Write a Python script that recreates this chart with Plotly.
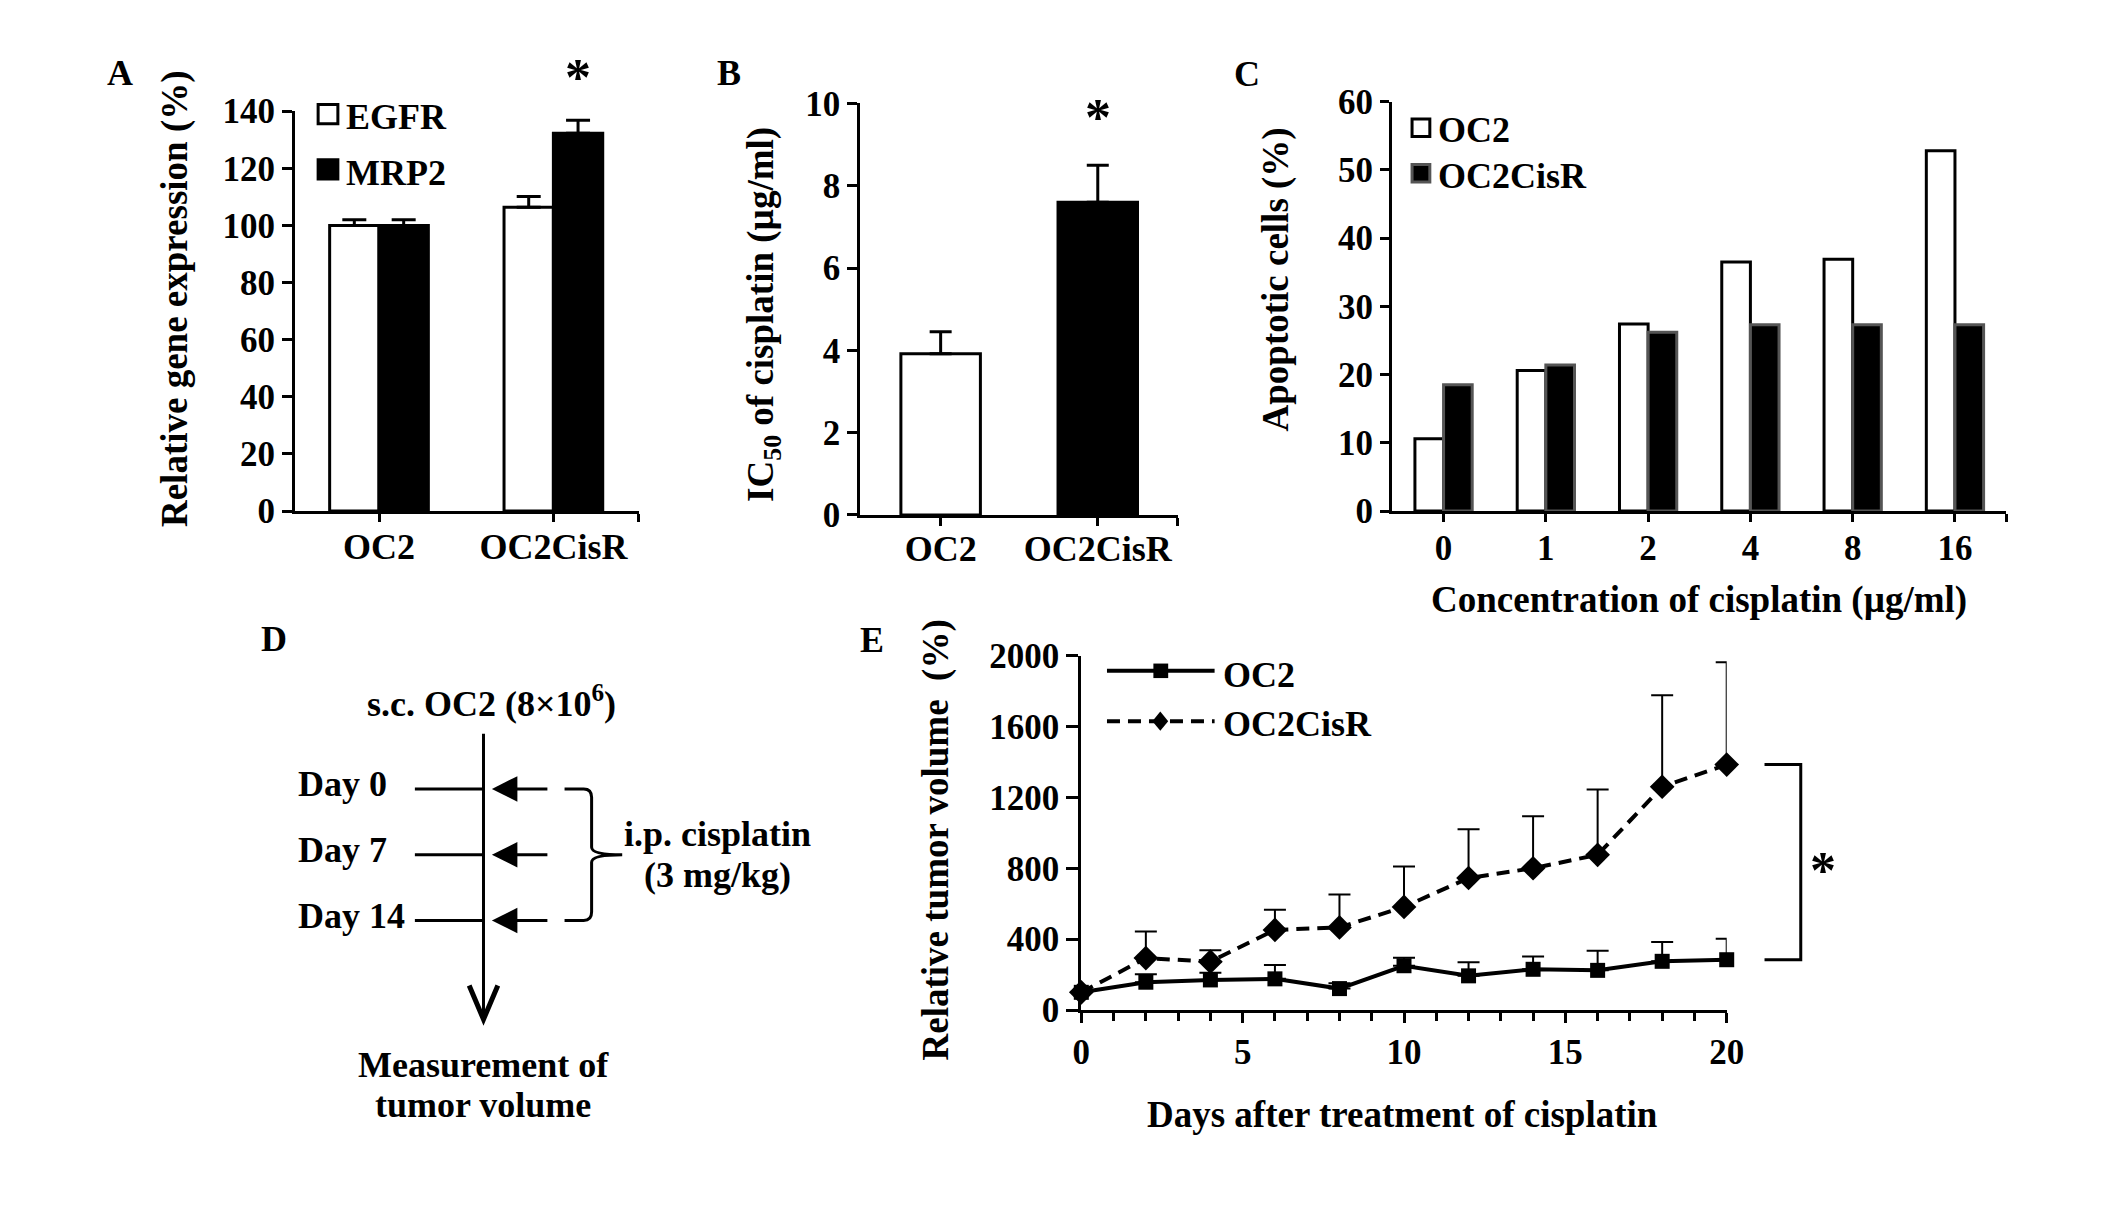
import plotly.graph_objects as go

# ---- data ----
# A: relative gene expression (%)
cell_lines = ['OC2', 'OC2CisR']
egfr = [100.0, 106.4]
egfr_err = [2.0, 3.7]
mrp2 = [100.0, 132.3]
mrp2_err = [2.0, 4.5]
a_yticks = [0, 20, 40, 60, 80, 100, 120, 140]

# B: IC50 of cisplatin (ug/ml)
ic50 = [3.92, 7.6]
ic50_err = [0.53, 0.9]
b_yticks = [0, 2, 4, 6, 8, 10]

# C: apoptotic cells (%)
conc = ['0', '1', '2', '4', '8', '16']
apop_oc2 = [10.6, 20.6, 27.4, 36.5, 36.9, 52.8]
apop_cisr = [18.5, 21.4, 26.2, 27.3, 27.3, 27.3]
c_yticks = [0, 10, 20, 30, 40, 50, 60]

# D: treatment schedule
sched_days = [0, 7, 14]

# E: relative tumor volume (%)
days = [0, 2, 4, 6, 8, 10, 12, 14, 16, 18, 20]
vol_oc2 = [100, 157, 170, 176, 121, 250, 193, 230, 224, 275, 284]
vol_oc2_err = [0, 45, 40, 78, 30, 45, 77, 72, 111, 109, 119]
vol_cisr = [100, 293, 273, 452, 466, 582, 745, 800, 876, 1260, 1385]
vol_cisr_err = [0, 150, 65, 114, 186, 228, 275, 294, 368, 517, 578]
e_xticks = [0, 5, 10, 15, 20]
e_yticks = [0, 400, 800, 1200, 1600, 2000]

# ---- layout helpers (page is 2126 x 1224 px) ----
W, H = 2126, 1224
FONT = 'Liberation Serif, Times New Roman, serif'


def px(x):
    return x / W


def py(y):
    return 1 - y / H


def axis_style(**kw):
    d = dict(showline=True, linecolor='black', linewidth=3, ticks='outside',
             tickcolor='black', tickwidth=3, ticklen=10, showgrid=False,
             zeroline=False, fixedrange=True, tickfont=dict(size=35))
    d.update(kw)
    return d


fig = go.Figure()

# ---- A ----
wa = 0.283
xa = list(range(len(cell_lines)))
fig.add_trace(go.Bar(
    x=xa, y=egfr, width=wa, offset=-wa, xaxis='x', yaxis='y',
    marker=dict(color='white', line=dict(color='black', width=3)),
    error_y=dict(type='data', array=egfr_err, arrayminus=[0] * 2, symmetric=False,
                 color='black', thickness=3, width=12)))
fig.add_trace(go.Bar(
    x=xa, y=mrp2, width=wa, offset=0, xaxis='x', yaxis='y',
    marker=dict(color='black', line=dict(color='black', width=3)),
    error_y=dict(type='data', array=mrp2_err, arrayminus=[0] * 2, symmetric=False,
                 color='black', thickness=3, width=12)))

# ---- B ----
fig.add_trace(go.Bar(
    x=xa, y=ic50, width=0.506, xaxis='x2', yaxis='y2',
    marker=dict(color=['white', 'black'], line=dict(color='black', width=3)),
    error_y=dict(type='data', array=ic50_err, arrayminus=[0] * 2, symmetric=False,
                 color='black', thickness=3, width=11)))

# ---- C ----
wc = 0.28
xc = list(range(len(conc)))
fig.add_trace(go.Bar(
    x=xc, y=apop_oc2, width=wc, offset=-wc, xaxis='x3', yaxis='y3',
    marker=dict(color='white', line=dict(color='black', width=3))))
fig.add_trace(go.Bar(
    x=xc, y=apop_cisr, width=wc, offset=0, xaxis='x3', yaxis='y3',
    marker=dict(color='black', line=dict(color='#555555', width=3))))

# ---- E ----
fig.add_trace(go.Scatter(
    x=days, y=vol_cisr, mode='lines+markers', xaxis='x4', yaxis='y4', cliponaxis=False,
    line=dict(color='black', width=4, dash='13px,8px'),
    marker=dict(symbol='diamond', size=19, color='black'),
    error_y=dict(type='data', array=vol_cisr_err, arrayminus=[0] * len(days),
                 symmetric=False, color='black', thickness=2, width=11)))
fig.add_trace(go.Scatter(
    x=days, y=vol_oc2, mode='lines+markers', xaxis='x4', yaxis='y4', cliponaxis=False,
    line=dict(color='black', width=4),
    marker=dict(symbol='square', size=15, color='black'),
    error_y=dict(type='data', array=vol_oc2_err, arrayminus=[0] * len(days),
                 symmetric=False, color='black', thickness=2, width=11)))

a_range = [-0.481, 1.491]
b_range = [-0.511, 1.511]
c_range = [-0.505, 5.503]

fig.update_layout(
    width=W, height=H, margin=dict(l=0, r=0, t=0, b=0),
    paper_bgcolor='white', plot_bgcolor='rgba(0,0,0,0)', showlegend=False,
    barmode='overlay',
    font=dict(family=FONT, size=36, color='black', weight='bold'),
    xaxis=axis_style(domain=[px(281.7), px(630)], range=a_range, anchor='y',
                     tickvals=xa + [a_range[1] - 0.002], ticktext=cell_lines + [''],
                     ticklen=8, tickfont=dict(size=36), ticklabelstandoff=-6),
    yaxis=axis_style(domain=[py(500), py(87)], range=[0, 140], anchor='x',
                     tickvals=a_yticks),
    xaxis2=axis_style(domain=[px(854.2), px(1176)], range=b_range, anchor='y2',
                      tickvals=xa + [b_range[1] - 0.002], ticktext=cell_lines + [''],
                      ticklen=8, tickfont=dict(size=36), ticklabelstandoff=-8),
    yaxis2=axis_style(domain=[py(504), py(79)], range=[0, 10], anchor='x2',
                      tickvals=b_yticks),
    xaxis3=axis_style(domain=[px(1392.6), px(2015)], range=c_range, anchor='y3',
                      tickvals=xc + [c_range[1] - 0.002], ticktext=conc + [''],
                      ticklen=8, ticklabelstandoff=-4),
    yaxis3=axis_style(domain=[py(500), py(77)], range=[0, 60], anchor='x3',
                      tickvals=c_yticks, ticklen=9),
    xaxis4=axis_style(domain=[px(1078), px(1731.7)], range=[0, 20], anchor='y4',
                      tickvals=e_xticks, ticklabelstandoff=-1,
                      minor=dict(dtick=1, ticks='outside', ticklen=8, tickwidth=3,
                                 tickcolor='black')),
    yaxis4=axis_style(domain=[py(1015.4), py(649.3)], range=[0, 2000], anchor='x4',
                      tickvals=e_yticks, ticklen=12),
    # hidden axes that place the schedule days of panel D
    xaxis5=dict(domain=[px(260), px(820)], range=[0, 1], visible=False, anchor='y5',
                fixedrange=True),
    yaxis5=dict(domain=[0, py(600)], range=[45.0, -19.25], visible=False, anchor='x5',
                fixedrange=True),
)

shapes = []
ann = []


def text(x, y, s, size=36, **kw):
    d = dict(x=px(x), y=py(y), xref='paper', yref='paper', text=s, showarrow=False,
             xanchor='center', yanchor='middle', font=dict(size=size))
    d.update(kw)
    ann.append(d)


# panel letters
for lab, x, y in [('A', 104, 48), ('B', 721, 47), ('C', 1246, 49),
                  ('D', 260, 632), ('E', 866, 633)]:
    text(x, y, lab, size=36)

# axis titles
text(160, 280, 'Relative gene expression (%)', size=37, textangle=-90)
text(756, 297, 'IC<sub>50</sub> of cisplatin (µg/ml)', size=37, textangle=-90)
text(1275, 261, 'Apoptotic cells (%)', size=37, textangle=-90)
text(1704, 592, 'Concentration of cisplatin (µg/ml)', size=37)
text(931, 840, 'Relative tumor volume\u00a0\u00a0(%)', size=37, textangle=-90)
text(1403, 1123, 'Days after treatment of cisplatin', size=37)

# legend A
shapes.append(dict(type='rect', xref='paper', yref='paper', x0=px(305), x1=px(325),
                   y0=py(80), y1=py(100), fillcolor='white', line=dict(color='black', width=3)))
shapes.append(dict(type='rect', xref='paper', yref='paper', x0=px(305), x1=px(325),
                   y0=py(137), y1=py(157), fillcolor='black', line=dict(color='black', width=3)))
text(331, 93, 'EGFR', xanchor='left')
text(331, 151, 'MRP2', xanchor='left')

# legend C
shapes.append(dict(type='rect', xref='paper', yref='paper', x0=px(1413), x1=px(1431),
                   y0=py(95), y1=py(113), fillcolor='white', line=dict(color='black', width=3)))
shapes.append(dict(type='rect', xref='paper', yref='paper', x0=px(1413), x1=px(1431),
                   y0=py(142), y1=py(160), fillcolor='black', line=dict(color='#555555', width=3)))
text(1437, 106, 'OC2', xanchor='left')
text(1437, 154, 'OC2CisR', xanchor='left')

# legend E
shapes.append(dict(type='line', xref='paper', yref='paper', x0=px(1104), x1=px(1213),
                   y0=py(665), y1=py(665), line=dict(color='black', width=4)))
shapes.append(dict(type='rect', xref='paper', yref='paper', x0=px(1151), x1=px(1166),
                   y0=py(657.5), y1=py(672.5), fillcolor='black', line=dict(width=0)))
shapes.append(dict(type='line', xref='paper', yref='paper', x0=px(1104), x1=px(1213),
                   y0=py(717), y1=py(717), line=dict(color='black', width=4, dash='13px,8px')))
shapes.append(dict(type='path', xref='paper', yref='paper',
                   path='M{},{} L{},{} L{},{} L{},{} Z'.format(
                       px(1158), py(707), px(1166), py(717), px(1158), py(727), px(1150), py(717)),
                   fillcolor='black', line=dict(width=0)))
text(1219, 669, 'OC2', xanchor='left')
text(1219, 720, 'OC2CisR', xanchor='left')

# significance marks
ann.append(dict(x=1 + wa / 2, y=mrp2[1] + mrp2_err[1], xref='x', yref='y', text='*',
                showarrow=False, xanchor='center', yanchor='bottom', yshift=12,
                font=dict(size=52)))
ann.append(dict(x=1, y=ic50[1] + ic50_err[1], xref='x2', yref='y2', text='*',
                showarrow=False, xanchor='center', yanchor='bottom', yshift=17,
                font=dict(size=52)))
shapes.append(dict(type='path', xref='paper', yref='y4',
                   path='M{},{} L{},{} L{},{} L{},{}'.format(
                       px(1770), vol_cisr[-1], px(1806.7), vol_cisr[-1],
                       px(1806.7), vol_oc2[-1], px(1770), vol_oc2[-1]),
                   line=dict(color='black', width=3)))
ann.append(dict(x=px(1829), y=(vol_cisr[-1] + vol_oc2[-1]) / 2, xref='paper', yref='y4',
                text='*', showarrow=False, xanchor='center', yanchor='middle', yshift=-8,
                font=dict(size=52)))

# ---- D: schedule diagram ----
xl = px(472.5)
shapes.append(dict(type='line', xref='paper', yref='paper', x0=xl, x1=xl,
                   y0=py(730), y1=py(1024), line=dict(color='black', width=3)))
shapes.append(dict(type='path', xref='paper', yref='paper',
                   path='M{},{} L{},{} L{},{}'.format(px(458), py(990), xl, py(1025),
                                                      px(487), py(990)),
                   line=dict(color='black', width=5)))
for d in sched_days:
    shapes.append(dict(type='line', xref='paper', yref='y5', x0=px(403), x1=xl,
                       y0=d, y1=d, line=dict(color='black', width=3)))
    ann.append(dict(x=px(481), y=d, xref='paper', yref='y5', text='', showarrow=True,
                    ax=57, ay=0, arrowhead=2, arrowsize=1.7, arrowwidth=3,
                    arrowcolor='black'))
    ann.append(dict(x=px(283), y=d, xref='paper', yref='y5', text='Day %d' % d,
                    showarrow=False, xanchor='left', yanchor='middle', yshift=5,
                    font=dict(size=36)))

# brace grouping the injections
d0, d1 = sched_days[0], sched_days[-1]
dm = (d0 + d1) / 2
pts = 'M{a},{t} L{b},{t} Q{c},{t} {c},{t1} L{c},{m0} Q{c},{m} {tip},{m} ' \
      'Q{c},{m} {c},{m1} L{c},{b1} Q{c},{bt} {b},{bt} L{a},{bt}'.format(
          a=px(554.6), b=px(574), c=px(582), tip=px(613), t=d0, t1=d0 + 0.9,
          m0=dm - 0.8, m=dm, m1=dm + 0.8, b1=d1 - 0.9, bt=d1)
shapes.append(dict(type='path', xref='paper', yref='y5', path=pts,
                   line=dict(color='black', width=3)))

text(481, 697, 's.c. OC2 (8×10<sup>6</sup>)')
text(710, 834, 'i.p. cisplatin')
text(710, 876, '(3 mg/kg)')
text(472.5, 1072, 'Measurement of')
text(472.5, 1113, 'tumor volume')

fig.update_layout(shapes=shapes, annotations=ann)
fig.write_html('out.html')
